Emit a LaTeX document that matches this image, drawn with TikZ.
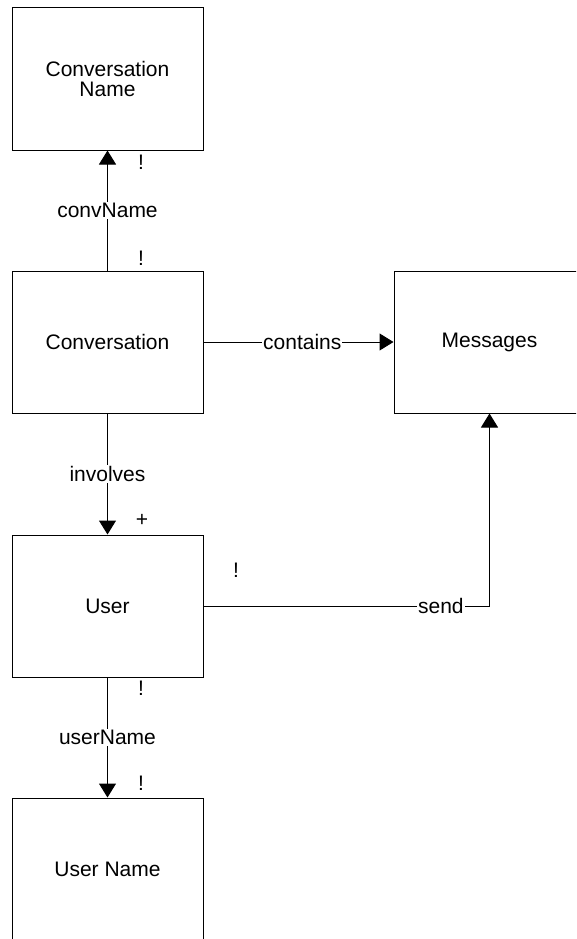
\documentclass[tikz,border=0pt]{standalone}
\usepackage{fontspec}
\setmainfont{Liberation Sans}
\usetikzlibrary{arrows.meta}
\begin{document}
\begin{tikzpicture}[x=1pt,y=-1pt,>={Triangle[length=14pt,width=17pt]},
   ent/.style={draw,line width=1pt,align=center,minimum width=191pt,minimum height=142pt,inner sep=0pt,font=\fontsize{21}{20}\selectfont},
   lbl/.style={fill=white,inner sep=1pt,font=\fontsize{21}{20}\selectfont},
   mk/.style={inner sep=0pt,font=\fontsize{21}{20}\selectfont}]
  \clip (0,0) rectangle (576,939);
  \node[ent] (cname) at (107.5,79) {Conversation\\Name};
  \node[ent] (conv) at (107.5,342) {Conversation};
  \node[ent] (msgs) at (489.5,342) {Messages};
  \node[ent] (user) at (107.5,606) {User};
  \node[ent] (uname) at (107.5,869) {User Name};
  % connectors
  \draw[->,line width=1pt] (conv) -- node[lbl]{convName} (cname);
  \draw[->,line width=1pt] (conv) -- node[lbl,pos=0.52]{contains} (msgs);
  \draw[->,line width=1pt] (conv) -- node[lbl]{involves} (user);
  \draw[->,line width=1pt] (user) -- node[lbl]{userName} (uname);
  \draw[->,line width=1pt] (user.east) -| node[lbl,pos=0.415]{send} (msgs.south);
  % cardinality marks
  \node[mk] (m1) at (141,162) {!};
  \node[mk] (m2) at (141,258) {!};
  \node[mk] (m3) at (142,520) {+};
  \node[mk] (m4) at (236,570) {!};
  \node[mk] (m5) at (141,688) {!};
  \node[mk] (m6) at (141,783) {!};
\end{tikzpicture}
\end{document}
